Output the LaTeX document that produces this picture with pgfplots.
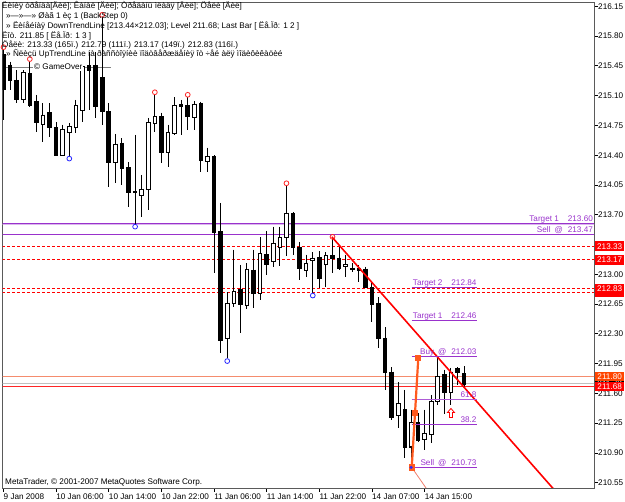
\documentclass[border=0pt]{standalone}
\usepackage{pgfplots}
\pgfplotsset{compat=1.18}
\usepackage{pgfplotstable}
\usepackage{fontspec}
\setmainfont{Liberation Sans}
\definecolor{mtpurple}{RGB}{153,50,204}
\definecolor{mtred}{RGB}{255,0,0}
\definecolor{mtorange}{RGB}{255,69,0}
\definecolor{zigorange}{RGB}{255,90,30}
\definecolor{salmonline}{RGB}{240,128,110}
\definecolor{orangeline}{RGB}{245,140,110}
\definecolor{bidgray}{RGB}{192,192,192}
\definecolor{mtblue}{RGB}{40,40,255}
\definecolor{framegray}{RGB}{90,90,90}

\pgfdeclareplotmark{hollowup}{%
  \pgfpathmoveto{\pgfqpoint{0bp}{4.5bp}}%
  \pgfpathlineto{\pgfqpoint{3.5bp}{0.5bp}}%
  \pgfpathlineto{\pgfqpoint{1.5bp}{0.5bp}}%
  \pgfpathlineto{\pgfqpoint{1.5bp}{-4.5bp}}%
  \pgfpathlineto{\pgfqpoint{-1.5bp}{-4.5bp}}%
  \pgfpathlineto{\pgfqpoint{-1.5bp}{0.5bp}}%
  \pgfpathlineto{\pgfqpoint{-3.5bp}{0.5bp}}%
  \pgfpathclose
  \pgfusepathqfillstroke}

% hourly candles: bar index, open, high, low, close
\pgfplotstableread{
i O H L C
0 215.58 215.64 214.81 215.17
1 215.46 215.50 215.17 215.28
2 215.28 215.40 215.01 215.05
3 215.05 215.40 215.01 215.37
4 215.36 215.50 214.97 214.99
5 215.03 215.11 214.67 214.78
6 214.76 215.01 214.56 214.87
7 214.90 215.01 214.61 214.72
8 214.72 214.79 214.39 214.40
9 214.40 214.76 214.39 214.70
10 214.67 214.78 214.38 214.74
11 214.73 215.05 214.66 214.98
12 214.93 215.48 214.79 215.44
13 215.45 215.61 214.93 215.40
14 215.45 215.61 214.84 214.97
15 215.31 216.03 214.76 214.91
16 214.91 215.01 214.03 214.32
17 214.31 214.65 214.07 214.53
18 214.54 214.60 214.05 214.24
19 214.25 214.32 213.79 213.96
20 213.96 214.64 213.58 213.97
21 213.93 214.17 213.67 214.00
22 214.00 214.84 213.76 214.78
23 214.77 215.11 214.67 214.85
24 214.85 214.90 214.31 214.43
25 214.43 214.76 214.26 214.67
26 214.66 215.08 214.64 214.98
27 215.00 215.05 214.64 214.97
28 214.98 215.08 214.70 214.85
29 214.84 215.04 214.70 215.00
30 215.01 215.03 214.20 214.34
31 214.33 214.49 214.20 214.38
32 214.38 214.40 213.02 213.49
33 213.50 213.84 212.08 212.22
34 212.24 212.79 212.02 212.66
35 212.66 213.29 212.62 212.80
36 212.82 213.11 212.31 212.65
37 212.63 213.13 212.59 213.06
38 213.05 213.29 212.60 212.78
39 212.77 213.44 212.70 213.24
40 213.23 213.51 212.99 213.12
41 213.15 213.56 213.09 213.36
42 213.32 213.56 213.10 213.43
43 213.43 214.04 213.22 213.72
44 213.71 213.73 213.23 213.31
45 213.32 213.38 212.93 213.07
46 213.05 213.23 212.97 213.13
47 213.16 213.26 212.78 213.19
48 213.20 213.27 212.84 212.95
49 213.11 213.26 212.85 213.22
50 213.22 213.41 213.02 213.18
51 213.19 213.32 213.05 213.07
52 213.09 213.23 212.97 213.11
53 213.07 213.13 213.03 213.06
54 213.07 213.11 212.91 213.04
55 213.06 213.09 212.84 212.85
56 212.85 212.90 212.44 212.65
57 212.66 212.73 212.13 212.24
58 212.25 212.38 211.64 211.85
59 211.85 211.91 211.29 211.32
60 211.34 211.73 211.19 211.48
61 211.41 211.64 210.84 210.97
62 210.97 211.41 210.73 211.26
63 211.26 211.37 211.03 211.05
64 211.06 211.41 210.93 211.13
65 211.12 211.58 211.02 211.50
66 211.50 212.02 211.46 211.80
67 211.82 211.88 211.36 211.61
68 211.61 211.90 211.46 211.85
69 211.89 211.91 211.70 211.84
70 211.83 211.92 211.68 211.71
}\candles

\begin{document}
\begin{tikzpicture}[x=1bp,y=1bp,font=\fontsize{8.2}{9.8}\selectfont]
\begin{axis}[
  scale only axis, width=591.5bp, height=486bp,
  xmin=-0.152, xmax=89.74, ymin=210.488, ymax=216.201,
  clip mode=individual,
  axis line style={framegray, line width=0.8bp},
  tick align=outside, major tick length=4bp,
  tick style={black, line width=0.8bp},
  xtick pos=left, ytick pos=right, yticklabel pos=right,
  xtick={0,8,16,24,32,40,48,56,64},
  xticklabels={9 Jan 2008,10 Jan 06:00,10 Jan 14:00,10 Jan 22:00,11 Jan 06:00,11 Jan 14:00,11 Jan 22:00,14 Jan 07:00,14 Jan 15:00},
  ytick={210.55,210.90,211.25,211.60,211.95,212.30,212.65,213.00,213.35,213.70,214.05,214.40,214.75,215.10,215.45,215.80,216.15},
  yticklabels={210.55,210.90,211.25,211.60,211.95,212.30,212.65,213.00,,213.70,214.05,214.40,214.75,215.10,215.45,215.80,216.15},
  xticklabel style={anchor=north west, inner sep=0pt, yshift=-1.5bp, font=\fontsize{8.2}{9.8}\selectfont},
  yticklabel style={anchor=west, inner sep=0pt, font=\fontsize{8.2}{9.8}\selectfont},
]
% full-width horizontal levels
\addplot[mtpurple, line width=0.9bp] coordinates {(-1,213.60) (91,213.60)};
\addplot[mtpurple!35, line width=0.8bp] coordinates {(-1,213.585) (91,213.585)};
\addplot[mtpurple, line width=0.9bp] coordinates {(-1,213.47) (91,213.47)};
\addplot[mtred, line width=1bp, dash pattern=on 3bp off 2bp] coordinates {(-1,213.33) (91,213.33)};
\addplot[mtred, line width=1bp, dash pattern=on 3bp off 2bp] coordinates {(-1,213.17) (91,213.17)};
\addplot[mtred, line width=1bp, dash pattern=on 3bp off 2bp] coordinates {(-1,212.83) (91,212.83)};
\addplot[mtred, line width=1bp, dash pattern=on 3bp off 2bp] coordinates {(-1,212.79) (91,212.79)};
\addplot[orangeline, line width=0.9bp] coordinates {(-1,211.80) (91,211.80)};
\addplot[bidgray, line width=0.8bp] coordinates {(-1,211.72) (91,211.72)};
\addplot[mtred!85, line width=0.9bp] coordinates {(-1,211.68) (91,211.68)};
% GameOver marker line
\addplot[gray, line width=0.7bp] coordinates {(0.23,215.43) (16.3,215.43)};

% candle wicks
\addplot[draw=none, forget plot, error bars/.cd, y dir=minus, y explicit, error mark=none,
  error bar style={draw=black, solid, line width=1bp}]
  table[x=i, y=H, y error expr=\thisrow{H}-\thisrow{L}] {\candles};
% candle bodies (black outline / black body)
\addplot[draw=none, forget plot, error bars/.cd, y dir=minus, y explicit, error mark=none,
  error bar style={draw=black, solid, line width=4.6bp}]
  table[x=i, y expr={max(\thisrow{O},\thisrow{C})+0.006}, y error expr={abs(\thisrow{O}-\thisrow{C})+0.012}] {\candles};
% white interior of rising candles
\addplot[draw=none, forget plot, restrict expr to domain={\thisrow{C}-\thisrow{O}}{0.015:10},
  error bars/.cd, y dir=minus, y explicit, error mark=none,
  error bar style={draw=white, solid, line width=2.6bp}]
  table[x=i, y expr={\thisrow{C}-0.006}, y error expr={\thisrow{C}-\thisrow{O}-0.012}] {\candles};

% fractal highs and lows
\addplot[only marks, mark=o, mark size=2.4bp, mtred!85, line width=0.8bp] coordinates {
(0,215.67) (4,215.53) (15,216.05) (23,215.14) (28,215.11) (43,214.07) (50,213.44)};
\addplot[only marks, mark=o, mark size=2.4bp, mtblue, line width=0.8bp] coordinates {
(10,214.36) (20,213.56) (34,211.98) (47,212.75)};

% down trend line
\addplot[mtred, line width=1.6bp] coordinates {(49.9,213.44) (84,210.44)};
% thin up trend line
\addplot[salmonline, line width=0.8bp] coordinates {(62.04,210.73) (65,210.40)};

% short target / fibo levels
\addplot[mtpurple, line width=0.9bp] coordinates {(62.04,212.84) (71.9,212.84)};
\addplot[mtpurple, line width=0.9bp] coordinates {(62.04,212.46) (71.9,212.46)};
\addplot[mtpurple, line width=0.9bp] coordinates {(62.04,212.03) (71.9,212.03)};
\addplot[mtpurple!80, line width=0.9bp] coordinates {(62.04,211.53) (71.9,211.53)};
\addplot[mtpurple, line width=0.9bp] coordinates {(62.04,211.23) (71.9,211.23)};
\addplot[mtpurple, line width=0.9bp] coordinates {(61.6,210.73) (71.9,210.73)};

% zigzag sell -> buy
\addplot[zigorange, line width=2.2bp, mark=square*, mark size=2bp, mark options={solid}] coordinates {
(62.04,210.73) (62.54,211.37) (63.04,212.02)};
\addplot[only marks, mark=*, mark size=1.4bp, mtblue] coordinates {(61.95,210.73)};
% signal arrow
\addplot[only marks, mark=hollowup, mtred, fill=white, line width=0.8bp] coordinates {(68.0,211.37)};

% level labels
\node[anchor=base east, inner sep=0, text=mtpurple] at (axis cs:89.6,213.60) [yshift=1.8bp] {Target 1\hspace{9bp}213.60};
\node[anchor=base east, inner sep=0, text=mtpurple] at (axis cs:89.6,213.47) [yshift=1.8bp] {Sell\hspace{4bp}@\hspace{5bp}213.47};
\node[anchor=base east, inner sep=0, text=mtpurple] at (axis cs:71.9,212.84) [yshift=2.2bp] {Target 2\hspace{9bp}212.84};
\node[anchor=base east, inner sep=0, text=mtpurple] at (axis cs:71.9,212.46) [yshift=2.2bp] {Target 1\hspace{9bp}212.46};
\node[anchor=base east, inner sep=0, text=mtpurple] at (axis cs:71.9,212.03) [yshift=2.2bp] {Buy\hspace{4bp}@\hspace{5bp}212.03};
\node[anchor=base east, inner sep=0, text=mtpurple] at (axis cs:71.9,211.53) [yshift=2.2bp] {61.8};
\node[anchor=base east, inner sep=0, text=mtpurple] at (axis cs:71.9,211.23) [yshift=2.2bp] {38.2};
\node[anchor=base east, inner sep=0, text=mtpurple] at (axis cs:71.9,210.73) [yshift=2.2bp] {Sell\hspace{4bp}@\hspace{5bp}210.73};

\coordinate (O) at (rel axis cs:0,0);
\coordinate (l1) at (axis cs:89.74,213.33);
\coordinate (l2) at (axis cs:89.74,213.17);
\coordinate (l3) at (axis cs:89.74,212.79);
\coordinate (l4) at (axis cs:89.74,212.83);
\coordinate (l5) at (axis cs:89.74,211.72);
\coordinate (l6) at (axis cs:89.74,211.80);
\coordinate (l7) at (axis cs:89.74,211.68);
\end{axis}

% price labels on the right scale
\tikzset{plab/.style={anchor=west, inner xsep=1.5bp, inner ysep=0pt, minimum height=9.5bp, minimum width=28.5bp, text=white}}
\node[plab, fill=mtred] at ([xshift=1.2bp]l1) {213.33};
\node[plab, fill=mtred] at ([xshift=1.2bp]l2) {213.17};
\node[plab, fill=mtred] at ([xshift=1.2bp]l3) {212.79};
\node[plab, fill=mtred] at ([xshift=1.2bp]l4) {212.83};
\node[plab, fill=black] at ([xshift=1.2bp]l5) {211.72};
\node[plab, fill=mtorange] at ([xshift=1.2bp]l6) {211.80};
\node[plab, fill=mtred] at ([xshift=1.2bp]l7) {211.68};

% canvas in reference pixels: (x, 502-y), origin shifted to the page corner
\begin{scope}[shift={(O)}, shift={(-2.5,-14)}]
\node[anchor=base west, inner sep=0] at (2,493) {Ëèíèÿ òðåíäà[Äèë]; Êàíàë [Äèë]; Òðåäàíü ìëàäÿ [Äèë]; Öåëè [Äèë]};
\node[anchor=base west, inner sep=0] at (6,483) {»—»—» Øàã 1 èç 1 (BackStep 0)};
\node[anchor=base west, inner sep=0] at (6,473) {» Ëèíåéíàÿ DownTrendLine [213.44×212.03]; Level 211.68; Last Bar [ Ëå.Ïð: 1 2 ]};
\node[anchor=base west, inner sep=0] at (2,463.5) {Ëîò. 211.85 [ Ëå.Ïð: 1 3 ]};
\node[anchor=base west, inner sep=0] at (2,454.5) {Öåëè: 213.33 (165ï.) 212.79 (111ï.) 213.17 (149ï.) 212.83 (116ï.)};
\node[anchor=base west, inner sep=0] at (6,445) {» Ñëèçü UpTrendLine íà ðàññòîÿíèè ïîäòâåðæäåíèÿ îò ÷åé àëÿ ìîäèôèêàöèé};
\node[anchor=base west, inner sep=1bp, fill=white] at (33,432.5) {© GameOver};
\node[anchor=base west, inner sep=0] at (5,17.5) {MetaTrader, © 2001-2007 MetaQuotes Software Corp.};
\pgfresetboundingbox
\path (0,0) rectangle (625,502);
\end{scope}
\end{tikzpicture}
\end{document}
